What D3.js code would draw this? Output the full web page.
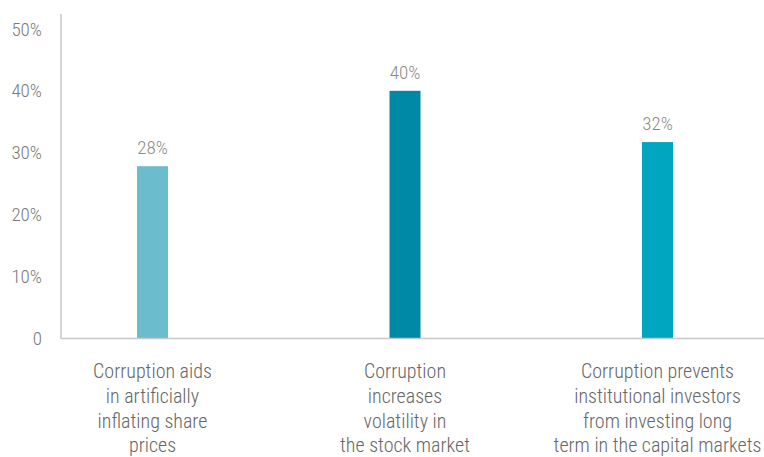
<!DOCTYPE html>
<html>
<head>
  <meta charset="utf-8">
  <script src="https://d3js.org/d3.v7.min.js"></script>
  <style>
    body { margin: 0; background: #fff; }
    svg {
      font-family: "Roboto Condensed", "Liberation Sans Narrow", Roboto, sans-serif;
      font-stretch: condensed;
      font-weight: 300;
    }
    .tick-label { font-size: 19px; fill: #7a7a7a; }
    .value-label { font-size: 19px; fill: #8a8a8a; }
    .cat-label { font-size: 20px; fill: #666; }
  </style>
</head>
<body>
  <svg width="764" height="457"></svg>

  <script>
    // Data
    const categories = [
      ["Corruption aids", "in artificially", "inflating share", "prices"],
      ["Corruption", "increases", "volatility in", "the stock market"],
      ["Corruption prevents", "institutional investors", "from investing long", "term in the capital markets"]
    ];
    const values = [28, 40, 32];
    const barTops = [27.8, 40, 31.7];   // bar heights
    const colors = ["#6bbccd", "#0089a6", "#00a5c0"];
    const yTicks = [0, 10, 20, 30, 40, 50];

    const svg = d3.select("svg");
    const left = 61, baseY = 338;

    const x = d3.scalePoint()
      .domain(d3.range(categories.length))
      .range([152.5, 657.5]);

    const y = d3.scaleLinear()
      .domain([0, 50])
      .range([baseY, 29]);

    const barW = 31;

    // y axis line
    svg.append("line")
      .attr("x1", left).attr("x2", left)
      .attr("y1", 14).attr("y2", baseY + 1)
      .attr("stroke", "#c8c8c8").attr("stroke-width", 1.5);

    // y tick labels
    svg.selectAll(".tick-label")
      .data(yTicks)
      .enter()
      .append("text")
      .attr("class", "tick-label")
      .attr("x", 42)
      .attr("y", d => y(d))
      .attr("dy", "0.35em")
      .attr("text-anchor", "end")
      .text(d => d === 0 ? "0" : d + "%");

    // bars
    svg.selectAll(".bar")
      .data(barTops)
      .enter()
      .append("rect")
      .attr("class", "bar")
      .attr("x", (d, i) => x(i) - barW / 2)
      .attr("y", d => y(d))
      .attr("width", barW)
      .attr("height", d => baseY - y(d))
      .attr("fill", (d, i) => colors[i]);

    // baseline
    svg.append("line")
      .attr("x1", left).attr("x2", 764)
      .attr("y1", baseY + 0.5).attr("y2", baseY + 0.5)
      .attr("stroke", "#c8c8c8").attr("stroke-width", 1.5);

    // value labels
    svg.selectAll(".value-label")
      .data(values)
      .enter()
      .append("text")
      .attr("class", "value-label")
      .attr("x", (d, i) => x(i))
      .attr("y", (d, i) => y(barTops[i]) - 12)
      .attr("text-anchor", "middle")
      .text(d => d + "%");

    // category labels
    categories.forEach((lines, i) => {
      const t = svg.append("text")
        .attr("class", "cat-label")
        .attr("text-anchor", "middle");
      lines.forEach((line, j) => {
        t.append("tspan")
          .attr("x", x(i))
          .attr("y", 378 + j * 24.8)
          .text(line);
      });
    });
  </script>
</body>
</html>
